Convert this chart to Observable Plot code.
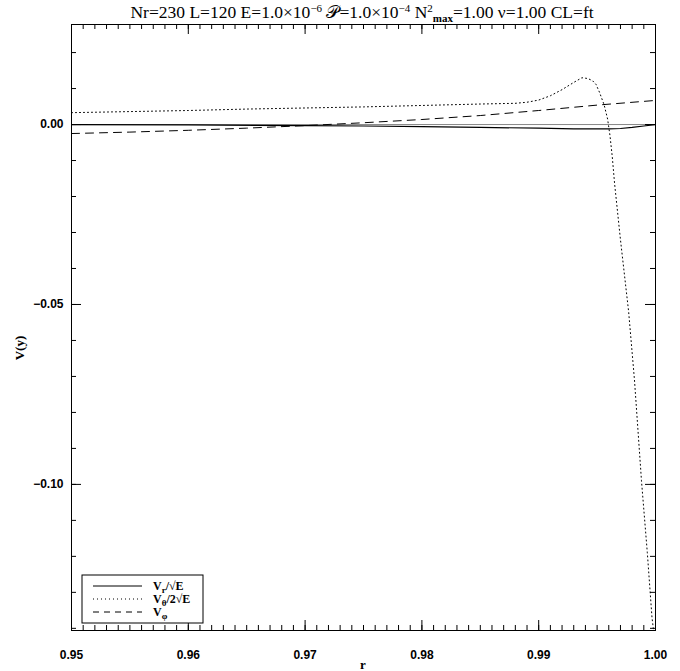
<!DOCTYPE html>
<html><head><meta charset="utf-8">
<script src="https://cdn.jsdelivr.net/npm/d3@7"></script>
<script src="https://cdn.jsdelivr.net/npm/@observablehq/plot@0.6"></script>
<style>body{margin:0;background:#fff} #chart{width:680px;height:671px}</style>
</head><body><div id="chart"></div>
<script>
// ---- data ----
const rVr = [0.95, 0.96, 0.97, 0.975, 0.98, 0.985, 0.99, 0.993, 0.995, 0.996, 0.997, 0.998, 0.999, 1.0];
const vr  = [0.0000, -0.0001, -0.0003, -0.0004, -0.0006, -0.0008, -0.0010, -0.0012, -0.0012, -0.0012, -0.0011, -0.0008, -0.0004, 0.0000];

const rVt = [0.95, 0.955, 0.96, 0.965, 0.97, 0.975, 0.98, 0.985, 0.988, 0.989, 0.990, 0.991, 0.992, 0.993, 0.9937, 0.9942, 0.9946, 0.9949, 0.9952, 0.9956, 0.9959, 0.9961, 0.9963, 0.9965, 0.9970, 0.9977, 0.9982, 0.9988, 0.9993, 0.9997, 1.0];
const vt  = [0.0033, 0.0036, 0.0039, 0.0043, 0.0046, 0.0049, 0.0053, 0.0057, 0.0059, 0.0062, 0.0068, 0.0080, 0.0097, 0.0117, 0.0130, 0.0128, 0.0122, 0.0112, 0.0090, 0.0055, 0.0015, -0.0030, -0.0090, -0.0165, -0.0320, -0.0520, -0.0710, -0.0990, -0.1190, -0.1370, -0.1450];

const rVp = [0.95, 0.955, 0.96, 0.965, 0.97, 0.975, 0.98, 0.985, 0.99, 0.995, 1.0];
const vp  = [-0.0025, -0.0021, -0.0016, -0.0010, -0.0003, 0.0005, 0.0014, 0.0025, 0.0039, 0.0054, 0.0067];

const xTicks = [0.95, 0.96, 0.97, 0.98, 0.99, 1.00];
const xTickLabels = ["0.95", "0.96", "0.97", "0.98", "0.99", "1.00"];
const xMinor = d3.range(950, 1001).map(d => d / 1000);
const yTicks = [0.00, -0.05, -0.10];
const yTickLabels = ["0.00", "\u22120.05", "\u22120.10"];
const yMinor = [0.02, 0.01, 0, -0.01, -0.02, -0.03, -0.04, -0.05, -0.06, -0.07, -0.08, -0.09, -0.10, -0.11, -0.12, -0.13, -0.14];

const xDomain = [0.95, 1.0];
const yDomain = [-0.1406, 0.0278];

const seriesVr = rVr.map((r, i) => ({r, v: vr[i]}));
const seriesVt = rVt.map((r, i) => ({r, v: vt[i]}));
const seriesVp = rVp.map((r, i) => ({r, v: vp[i]}));

const sans = "'Liberation Sans', Arial, sans-serif";
const serif = "'Liberation Serif', 'DejaVu Serif', serif";

const W = 680, H = 671, ML = 71, MR = 25, MT = 24, MB = 41;
const FW = W - ML - MR, FH = H - MT - MB;
const minorLen = 5, majorLen = 10;

const plot = Plot.plot({
  width: W, height: H,
  marginLeft: ML, marginRight: MR, marginTop: MT, marginBottom: MB,
  x: {domain: xDomain, label: null},
  y: {domain: yDomain, label: null},
  style: {fontFamily: sans, fontSize: "12px", background: "#fff", overflow: "visible"},
  marks: [
    Plot.ruleY([0], {stroke: "#888", strokeWidth: 1}),
    Plot.line(seriesVr, {x: "r", y: "v", stroke: "#000", strokeWidth: 1.2, clip: true}),
    Plot.line(seriesVt, {x: "r", y: "v", stroke: "#000", strokeWidth: 1, strokeDasharray: "1,3", clip: true}),
    Plot.line(seriesVp, {x: "r", y: "v", stroke: "#000", strokeWidth: 1, strokeDasharray: "8,6", clip: true}),
    // inward ticks on all four sides
    Plot.tickX(xMinor, {x: d => d, insetTop: FH - minorLen, stroke: "#000"}),
    Plot.tickX(xMinor, {x: d => d, insetBottom: FH - minorLen, stroke: "#000"}),
    Plot.tickX(xTicks, {x: d => d, insetTop: FH - majorLen, stroke: "#000"}),
    Plot.tickX(xTicks, {x: d => d, insetBottom: FH - majorLen, stroke: "#000"}),
    Plot.tickY(yMinor, {y: d => d, insetRight: FW - minorLen, stroke: "#000"}),
    Plot.tickY(yMinor, {y: d => d, insetLeft: FW - minorLen, stroke: "#000"}),
    Plot.tickY(yTicks, {y: d => d, insetRight: FW - majorLen, stroke: "#000"}),
    Plot.tickY(yTicks, {y: d => d, insetLeft: FW - majorLen, stroke: "#000"}),
    // tick labels
    Plot.axisX({anchor: "bottom", ticks: xTicks, tickSize: 0, tickPadding: 20,
      tickFormat: d => xTickLabels[xTicks.indexOf(d)], fontWeight: "bold", fill: "#000"}),
    Plot.axisY({anchor: "left", ticks: yTicks, tickSize: 0, tickPadding: 8,
      tickFormat: d => yTickLabels[yTicks.indexOf(d)], fontWeight: "bold", fill: "#000"}),
    Plot.frame({stroke: "#000", strokeWidth: 1})
  ]
});
document.getElementById("chart").appendChild(plot);

// ---- title, axis titles, legend ----
const svg = d3.select(plot);
const t = svg.append("text").attr("x", 362).attr("y", 18).attr("text-anchor", "middle")
  .attr("font-family", serif).attr("font-size", 17.5).attr("fill", "#000");
t.append("tspan").text("Nr=230 L=120 E=1.0\u00d710");
t.append("tspan").attr("dy", -6).attr("font-size", 11).text("\u22126");
t.append("tspan").attr("dy", 6).text(" \ud835\udcab=1.0\u00d710");
t.append("tspan").attr("dy", -6).attr("font-size", 11).text("\u22124");
t.append("tspan").attr("dy", 6).text(" N");
t.append("tspan").attr("dy", -6).attr("font-size", 11).text("2");
t.append("tspan").attr("dy", 10).attr("font-size", 11).attr("font-weight", "bold").text("max");
t.append("tspan").attr("dy", -4).text("=1.00 \u03bd=1.00 CL=ft");

svg.append("text").attr("x", 363).attr("y", 669).attr("text-anchor", "middle")
  .attr("font-family", serif).attr("font-weight", "bold").attr("font-size", 13).text("r");
svg.append("text").attr("transform", "translate(24,348) rotate(-90)").attr("text-anchor", "middle")
  .attr("font-family", serif).attr("font-weight", "bold").attr("font-size", 13).text("V(y)");

const lg = svg.append("g");
lg.append("rect").attr("x", 82).attr("y", 575).attr("width", 121).attr("height", 48)
  .attr("fill", "#fff").attr("stroke", "#000");
const legendItems = [
  {dash: null, main: "V", sub: "r", rest: "/\u221aE"},
  {dash: "1,3", main: "V", sub: "\u03b8", rest: "/2\u221aE"},
  {dash: "6,5", main: "V", sub: "\u03c6", rest: ""}
];
legendItems.forEach((it, i) => {
  const y = 586 + i * 13;
  const ln = lg.append("line").attr("x1", 93).attr("x2", 142).attr("y1", y).attr("y2", y)
    .attr("stroke", "#000").attr("stroke-width", 1);
  if (it.dash) ln.attr("stroke-dasharray", it.dash);
  const tx = lg.append("text").attr("x", 153).attr("y", y + 4).attr("text-anchor", "start")
    .attr("font-family", serif).attr("font-weight", "bold").attr("font-size", 12);
  tx.append("tspan").text(it.main);
  tx.append("tspan").attr("dy", 3).attr("font-size", 9).text(it.sub);
  if (it.rest) tx.append("tspan").attr("dy", -3).text(it.rest);
});
</script>
</body></html>
